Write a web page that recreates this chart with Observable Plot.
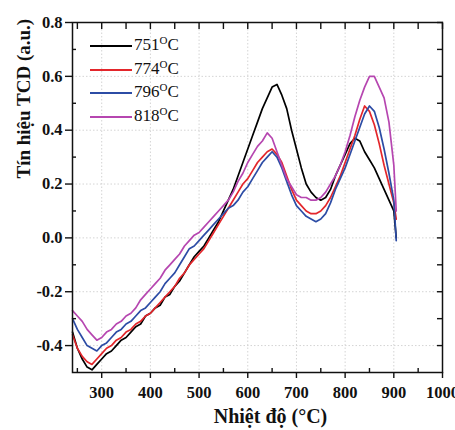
<!DOCTYPE html>
<html><head><meta charset="utf-8">
<script src="https://cdn.jsdelivr.net/npm/d3@7"></script>
<script src="https://cdn.jsdelivr.net/npm/@observablehq/plot@0.6"></script>
<style>
body{margin:0;background:#fff}
#wrap{position:relative;width:455px;height:430px;overflow:hidden;font-family:"Liberation Serif","Times New Roman",serif}
#wrap svg text{font-family:"Liberation Serif","Times New Roman",serif}
#wrap g[aria-label="x-axis tick label"] text,#wrap g[aria-label="y-axis tick label"] text{font-size:16.5px;font-weight:bold}
.leg{position:absolute;left:90px;font-size:17px;line-height:20px;color:#111;white-space:nowrap}
.leg .sw{display:inline-block;width:42px;height:0;border-top:2px solid;vertical-align:middle;margin-right:2px}
.leg sup{font-size:11px;vertical-align:6px;line-height:0}
</style>
</head><body><div id="wrap"></div>
<script>
const temps = [240,250,260,270,280,290,300,310,320,330,340,350,360,370,380,390,400,410,420,430,440,450,460,470,480,490,500,510,520,530,540,550,560,570,580,590,600,610,620,630,640,650,660,670,680,690,700,710,720,730,740,750,760,770,780,790,800,810,820,830,840,850,860,870,880,890,900,905];
const s751 = [-0.35,-0.41,-0.45,-0.48,-0.49,-0.47,-0.45,-0.43,-0.42,-0.40,-0.38,-0.37,-0.35,-0.33,-0.32,-0.29,-0.28,-0.26,-0.25,-0.22,-0.21,-0.18,-0.16,-0.13,-0.10,-0.07,-0.05,-0.03,0.00,0.03,0.06,0.10,0.14,0.18,0.23,0.28,0.33,0.38,0.43,0.48,0.52,0.56,0.57,0.53,0.48,0.40,0.33,0.26,0.20,0.17,0.15,0.14,0.15,0.18,0.23,0.27,0.31,0.35,0.37,0.36,0.32,0.29,0.26,0.22,0.18,0.14,0.10,0.00];
const s774 = [-0.36,-0.41,-0.44,-0.46,-0.47,-0.45,-0.43,-0.41,-0.40,-0.38,-0.37,-0.35,-0.34,-0.32,-0.31,-0.29,-0.28,-0.26,-0.24,-0.22,-0.20,-0.18,-0.15,-0.13,-0.10,-0.08,-0.06,-0.04,-0.01,0.02,0.05,0.08,0.11,0.14,0.17,0.20,0.22,0.25,0.28,0.30,0.32,0.33,0.31,0.28,0.23,0.18,0.14,0.12,0.10,0.09,0.09,0.10,0.12,0.15,0.19,0.23,0.28,0.33,0.38,0.44,0.49,0.47,0.42,0.35,0.27,0.20,0.13,0.07];
const s796 = [-0.30,-0.34,-0.37,-0.40,-0.41,-0.42,-0.40,-0.39,-0.37,-0.35,-0.34,-0.32,-0.31,-0.29,-0.27,-0.26,-0.24,-0.22,-0.20,-0.17,-0.15,-0.13,-0.10,-0.07,-0.04,-0.03,-0.01,0.01,0.03,0.05,0.07,0.09,0.11,0.12,0.14,0.17,0.19,0.22,0.25,0.28,0.30,0.32,0.30,0.26,0.21,0.16,0.12,0.10,0.08,0.07,0.06,0.07,0.09,0.13,0.18,0.22,0.26,0.31,0.36,0.41,0.46,0.49,0.47,0.41,0.33,0.24,0.14,-0.01];
const s818 = [-0.27,-0.29,-0.31,-0.34,-0.36,-0.38,-0.37,-0.35,-0.34,-0.32,-0.31,-0.29,-0.28,-0.26,-0.23,-0.21,-0.19,-0.17,-0.15,-0.12,-0.10,-0.08,-0.06,-0.03,-0.01,0.01,0.02,0.04,0.06,0.08,0.10,0.12,0.14,0.17,0.21,0.24,0.28,0.31,0.34,0.36,0.39,0.37,0.32,0.27,0.22,0.19,0.16,0.15,0.15,0.14,0.14,0.15,0.17,0.20,0.23,0.27,0.32,0.38,0.45,0.51,0.56,0.60,0.60,0.56,0.52,0.43,0.27,0.10];
const seriesNames = ["751","774","796","818"];
const seriesValues = [s751, s774, s796, s818];
const seriesColors = ["#000000","#e3262b","#2c4ca5","#b646b0"];
const xTicks = [300,400,500,600,700,800,900,1000];
const xMinor = [250,350,450,550,650,750,850,950];
const yTicks = [0.8,0.6,0.4,0.2,0.0,-0.2,-0.4];
const yMinor = [0.7,0.5,0.3,0.1,-0.1,-0.3];
const xTitle = "Nhiệt độ (°C)";
const yTitle = "Tín hiệu TCD (a.u.)";

const rows = [];
seriesNames.forEach((n, i) => temps.forEach((t, j) => rows.push({name: n, t, v: seriesValues[i][j]})));

const blank = () => "";
const titleFont = {fontFamily: "Liberation Serif, Times New Roman, serif", fontWeight: "bold", fill: "#111"};
const plot = Plot.plot({
  width: 455, height: 430,
  marginTop: 22, marginLeft: 72, marginRight: 13, marginBottom: 58,
  x: {domain: [240, 1000]},
  y: {domain: [-0.5, 0.8]},
  color: {domain: seriesNames, range: seriesColors},
  style: {background: "white", color: "#111", fontSize: "16px"},
  marks: [
    Plot.gridX(xTicks, {stroke: "#d4d4d4", strokeOpacity: 1, strokeDasharray: "1.5,2"}),
    Plot.gridY(yTicks, {stroke: "#d4d4d4", strokeOpacity: 1, strokeDasharray: "1.5,2"}),
    Plot.line(rows, {x: "t", y: "v", z: "name", stroke: "name", strokeWidth: 1.7}),
    Plot.frame({stroke: "#111", strokeWidth: 1.5}),
    Plot.axisX(xTicks, {anchor: "bottom", tickSize: 6, tickPadding: 8, strokeWidth: 1.4, tickFormat: d => String(d), label: null}),
    Plot.axisX(xMinor, {anchor: "bottom", tickSize: -4, strokeWidth: 1.4, tickFormat: blank, label: null}),
    Plot.axisX([...xTicks, ...xMinor], {anchor: "top", tickSize: -6, strokeWidth: 1.4, tickFormat: blank, label: null}),
    Plot.axisY(yTicks, {anchor: "left", tickSize: 7, tickPadding: 3, strokeWidth: 1.4, tickFormat: d => d.toFixed(1), label: null}),
    Plot.axisY(yMinor, {anchor: "left", tickSize: -4, strokeWidth: 1.4, tickFormat: blank, label: null}),
    Plot.axisY([...yTicks, ...yMinor], {anchor: "right", tickSize: -6, strokeWidth: 1.4, tickFormat: blank, label: null}),
    Plot.text([xTitle], {frameAnchor: "bottom", dx: 13, dy: 44, lineAnchor: "middle", fontSize: 20, ...titleFont}),
    Plot.text([yTitle], {frameAnchor: "left", rotate: -90, dx: -49, dy: -19, lineAnchor: "middle", fontSize: 19, ...titleFont})
  ]
});
const wrap = document.getElementById("wrap");
wrap.appendChild(plot);
seriesNames.forEach((n, i) => {
  const d = document.createElement("div");
  d.className = "leg";
  d.style.top = (35 + i * 23.5) + "px";
  d.innerHTML = `<span class="sw" style="border-color:${seriesColors[i]}"></span>${n}<sup>O</sup>C`;
  wrap.appendChild(d);
});
</script>
</body></html>
